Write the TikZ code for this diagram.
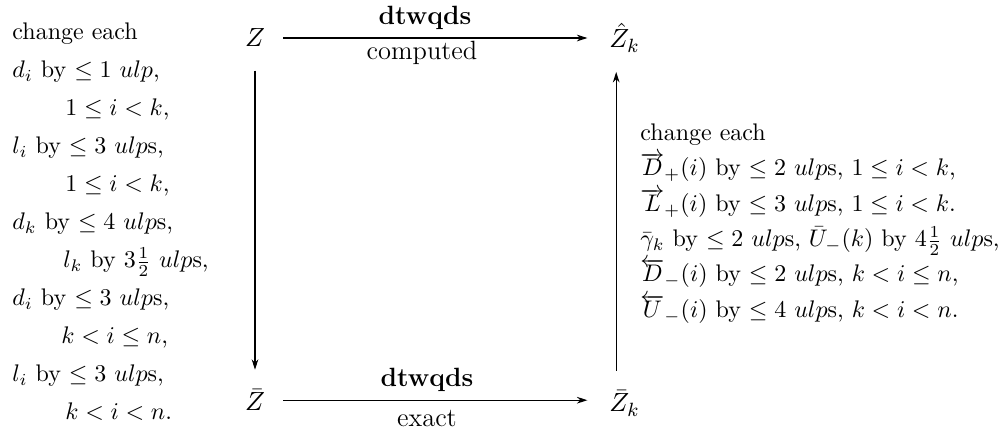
\documentclass[tikz,border=0pt]{standalone}
\usetikzlibrary{arrows.meta}
\begin{document}
\begin{tikzpicture}[x=0.41667pt, y=-0.41667pt,
  txt/.style={inner sep=0pt, anchor=base west},
  obj/.style={inner sep=0pt, font=\fontsize{11}{13}\selectfont},
  lbl/.style={inner sep=0pt, font=\fontsize{11}{13}\selectfont},
  arr/.style={-{Stealth[length=4.4pt,width=2.8pt]}, line width=0.45pt}]
\useasboundingbox (0,0) rectangle (1008,433);
% objects
\node[obj, anchor=base] (Z) at (255,47) {$Z$};
\node[obj, anchor=base west] (Zh) at (609,48) {$\hat Z_k$};
\node[obj, anchor=base] (Zb) at (255,411) {$\bar Z$};
\node[obj, anchor=base west] (Zbk) at (609,412) {$\bar Z_k$};
% arrows
\draw[arr, shorten <=7.5pt, shorten >=9pt] (Z.east) -- (Z.east -| Zh.west);
\draw[arr, shorten <=7.5pt, shorten >=9pt] (Zb.east) -- (Zb.east -| Zbk.west);
\draw[arr, shorten <=9.6pt, shorten >=8pt] (Z.south) -- (Zb.north);
\draw[arr, shorten <=8pt, shorten >=8pt] ([xshift=3pt]Zbk.north west) -- ([xshift=3pt]Zbk.north west |- Zh.south);
% arrow labels
\node[lbl] (t1) at (425,18) {\textbf{dtwqds}};
\node[lbl] (t2) at (422,53) {computed};
\node[lbl] (b1) at (427,380) {\textbf{dtwqds}};
\node[lbl] (b2) at (427,419) {exact};
% left column
\node[txt] (l0) at (12,40) {change each};
\node[txt] (l1) at (12,78) {$d_i$ by $\le 1$ $ulp$,};
\node[txt] (l2) at (65,116) {$1\le i<k$,};
\node[txt] (l3) at (12,154) {$l_i$ by $\le 3$ $ulp$s,};
\node[txt] (l4) at (65,192) {$1\le i<k$,};
\node[txt] (l5) at (12,230) {$d_k$ by $\le 4$ $ulp$s,};
\node[txt] (l6) at (63,268) {$l_k$ by $3\frac{1}{2}$ $ulp$s,};
\node[txt] (l7) at (12,306) {$d_i$ by $\le 3$ $ulp$s,};
\node[txt] (l8) at (61,344) {$k<i\le n$,};
\node[txt] (l9) at (12,382) {$l_i$ by $\le 3$ $ulp$s,};
\node[txt] (l10) at (65,420) {$k<i<n$.};
% right column
\node[txt] (r0) at (640,141) {change each};
\node[txt] (r1) at (640,176) {$\overrightarrow{D}_{+}(i)$ by $\le 2$ $ulp$s, $1\le i<k$,};
\node[txt] (r2) at (640,212) {$\overrightarrow{L}_{+}(i)$ by $\le 3$ $ulp$s, $1\le i<k$.};
\node[txt] (r3) at (640,247) {$\bar\gamma_k$ by $\le 2$ $ulp$s, $\bar U_{-}(k)$ by $4\frac{1}{2}$ $ulp$s,};
\node[txt] (r4) at (640,282) {$\overleftarrow{D}_{-}(i)$ by $\le 2$ $ulp$s, $k<i\le n$,};
\node[txt] (r5) at (640,318) {$\overleftarrow{U}_{-}(i)$ by $\le 4$ $ulp$s, $k<i<n$.};
\end{tikzpicture}
\end{document}
